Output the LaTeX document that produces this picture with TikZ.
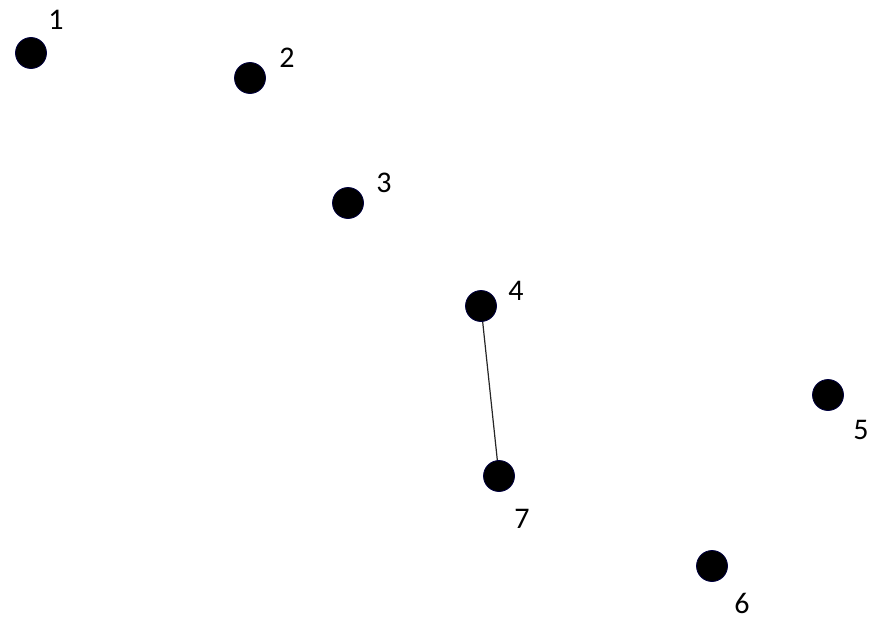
\documentclass[tikz,border=0pt]{standalone}
\usepackage{fontspec}
\setmainfont{Carlito}
\usetikzlibrary{backgrounds}
\begin{document}
\begin{tikzpicture}[x=1pt,y=-1pt,
  dot/.style={circle,fill=black,draw=black!75!blue,line width=0.8pt,minimum size=31pt,inner sep=0pt},
  lbl/.style={font=\fontsize{30}{30}\selectfont,inner sep=0pt,text=black}]
\useasboundingbox (0,0) rectangle (870,621);
\node[dot] (n1) at (31,53) {};
\node[dot] (n2) at (250,78) {};
\node[dot] (n3) at (348,203) {};
\node[dot] (n4) at (481,306) {};
\node[dot] (n5) at (828,395) {};
\node[dot] (n6) at (712,566) {};
\node[dot] (n7) at (499,476) {};
\node[lbl] (l1) at (56,20) {1};
\node[lbl] (l2) at (287,58) {2};
\node[lbl] (l3) at (384,183) {3};
\node[lbl] (l4) at (516,291) {4};
\node[lbl] (l5) at (861,430) {5};
\node[lbl] (l6) at (742,603) {6};
\node[lbl] (l7) at (522,519) {7};
\begin{scope}[on background layer]
\draw[line width=1.2pt,black!85] (n4.center) -- (n7.center);
\end{scope}
\end{tikzpicture}
\end{document}
